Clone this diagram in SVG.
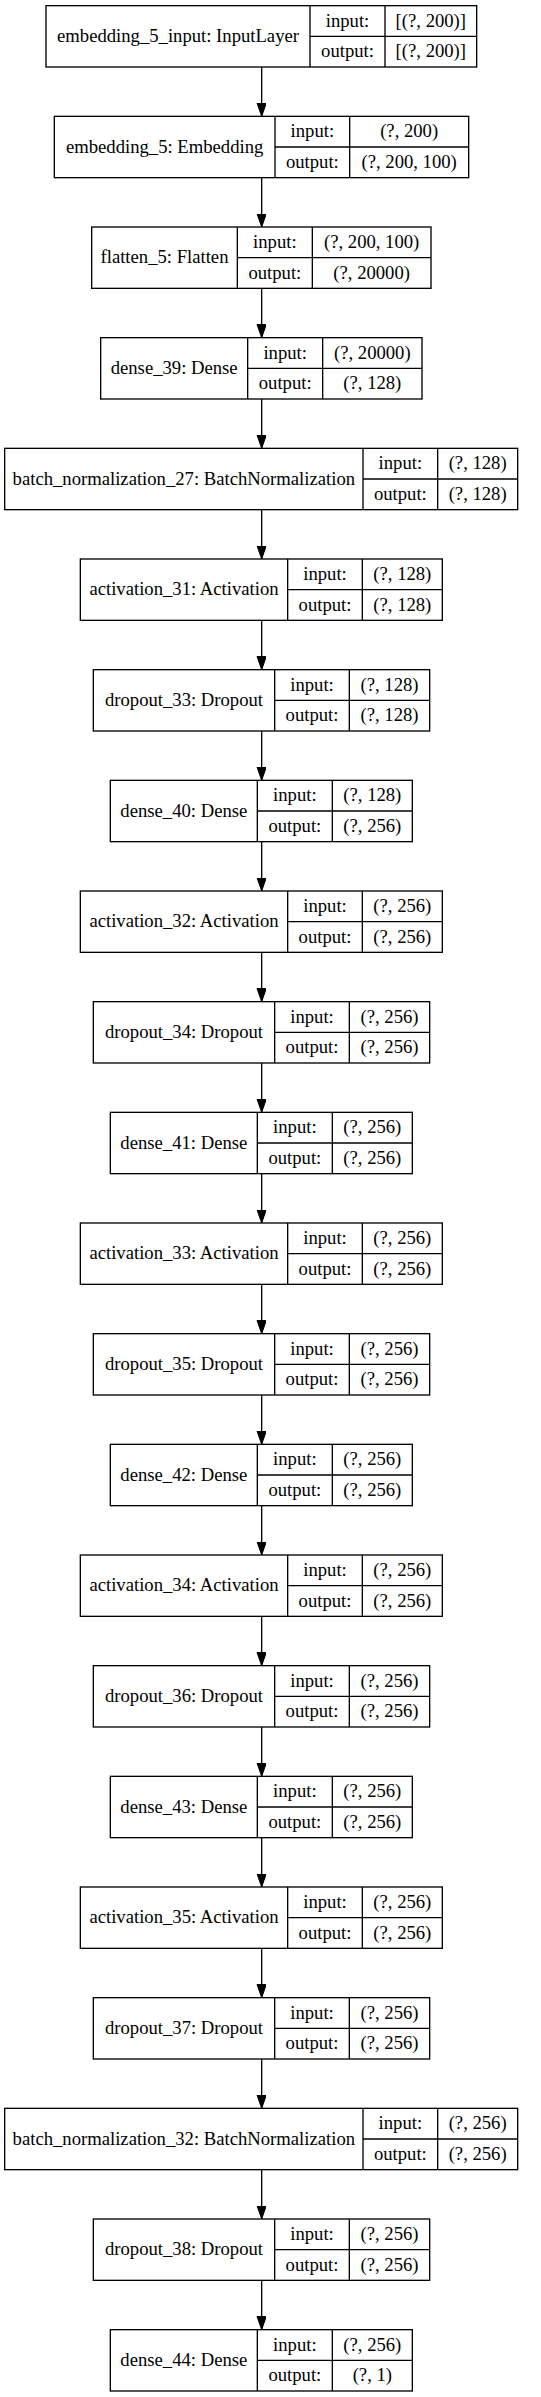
<svg xmlns="http://www.w3.org/2000/svg" width="541" height="2397" viewBox="0 0 541 2397">
<style>
.b{fill:#fff;stroke:#000;stroke-width:1.33}
.l{stroke:#000;stroke-width:1.33}
text{font-family:"Liberation Serif","Times New Roman",serif;font-size:18.67px;text-anchor:middle;fill:#000}
.e{stroke:#000;stroke-width:1.33;fill:none}
</style>
<defs>
<marker id="ah" markerUnits="userSpaceOnUse" markerWidth="14" markerHeight="10" refX="13.33" refY="4.67" orient="auto">
<path d="M0,0 L13.33,4.67 L0,9.33 Z" fill="#000" stroke="#000" stroke-width="1"/>
</marker>
</defs>
<rect width="541" height="2397" fill="#fff"/>
<g id="connectors">
<line class="e" x1="261.67" y1="67" x2="261.67" y2="116.33" marker-end="url(#ah)"/>
<line class="e" x1="261.67" y1="177.67" x2="261.67" y2="227" marker-end="url(#ah)"/>
<line class="e" x1="261.67" y1="288.33" x2="261.67" y2="337.67" marker-end="url(#ah)"/>
<line class="e" x1="261.67" y1="399" x2="261.67" y2="448.33" marker-end="url(#ah)"/>
<line class="e" x1="261.67" y1="509.67" x2="261.67" y2="559" marker-end="url(#ah)"/>
<line class="e" x1="261.67" y1="620.33" x2="261.67" y2="669.67" marker-end="url(#ah)"/>
<line class="e" x1="261.67" y1="731" x2="261.67" y2="780.33" marker-end="url(#ah)"/>
<line class="e" x1="261.67" y1="841.67" x2="261.67" y2="891" marker-end="url(#ah)"/>
<line class="e" x1="261.67" y1="952.33" x2="261.67" y2="1001.67" marker-end="url(#ah)"/>
<line class="e" x1="261.67" y1="1063" x2="261.67" y2="1112.33" marker-end="url(#ah)"/>
<line class="e" x1="261.67" y1="1173.67" x2="261.67" y2="1223" marker-end="url(#ah)"/>
<line class="e" x1="261.67" y1="1284.33" x2="261.67" y2="1333.67" marker-end="url(#ah)"/>
<line class="e" x1="261.67" y1="1395" x2="261.67" y2="1444.33" marker-end="url(#ah)"/>
<line class="e" x1="261.67" y1="1505.67" x2="261.67" y2="1555" marker-end="url(#ah)"/>
<line class="e" x1="261.67" y1="1616.33" x2="261.67" y2="1665.67" marker-end="url(#ah)"/>
<line class="e" x1="261.67" y1="1727" x2="261.67" y2="1776.33" marker-end="url(#ah)"/>
<line class="e" x1="261.67" y1="1837.67" x2="261.67" y2="1887" marker-end="url(#ah)"/>
<line class="e" x1="261.67" y1="1948.33" x2="261.67" y2="1997.67" marker-end="url(#ah)"/>
<line class="e" x1="261.67" y1="2059" x2="261.67" y2="2108.33" marker-end="url(#ah)"/>
<line class="e" x1="261.67" y1="2169.67" x2="261.67" y2="2219" marker-end="url(#ah)"/>
<line class="e" x1="261.67" y1="2280.33" x2="261.67" y2="2329.67" marker-end="url(#ah)"/>
</g>

<g id="embedding_5_input" transform="translate(0,5.67)">
<rect class="b" x="46" y="0" width="430.67" height="61.33"/>
<line class="l" x1="310" y1="0" x2="310" y2="61.33"/><line class="l" x1="385" y1="0" x2="385" y2="61.33"/><line class="l" x1="310" y1="30.67" x2="476.67" y2="30.67"/>
<text x="178" y="36.3">embedding_5_input: InputLayer</text>
<text x="347.5" y="20.9">input:</text><text x="347.5" y="51.6">output:</text>
<text x="430.83" y="20.9">[(?, 200)]</text><text x="430.83" y="51.6">[(?, 200)]</text>
</g>

<g id="embedding_5" transform="translate(0,116.33)">
<rect class="b" x="54.33" y="0" width="414.34" height="61.33"/>
<line class="l" x1="275" y1="0" x2="275" y2="61.33"/><line class="l" x1="349.67" y1="0" x2="349.67" y2="61.33"/><line class="l" x1="275" y1="30.67" x2="468.67" y2="30.67"/>
<text x="164.67" y="36.3">embedding_5: Embedding</text>
<text x="312.33" y="20.9">input:</text><text x="312.33" y="51.6">output:</text>
<text x="409.17" y="20.9">(?, 200)</text><text x="409.17" y="51.6">(?, 200, 100)</text>
</g>

<g id="flatten_5" transform="translate(0,227)">
<rect class="b" x="91.67" y="0" width="339.33" height="61.33"/>
<line class="l" x1="237.33" y1="0" x2="237.33" y2="61.33"/><line class="l" x1="312.33" y1="0" x2="312.33" y2="61.33"/><line class="l" x1="237.33" y1="30.67" x2="431" y2="30.67"/>
<text x="164.5" y="36.3">flatten_5: Flatten</text>
<text x="274.83" y="20.9">input:</text><text x="274.83" y="51.6">output:</text>
<text x="371.67" y="20.9">(?, 200, 100)</text><text x="371.67" y="51.6">(?, 20000)</text>
</g>

<g id="dense_39" transform="translate(0,337.67)">
<rect class="b" x="100.67" y="0" width="321.33" height="61.33"/>
<line class="l" x1="247.67" y1="0" x2="247.67" y2="61.33"/><line class="l" x1="322.67" y1="0" x2="322.67" y2="61.33"/><line class="l" x1="247.67" y1="30.67" x2="422" y2="30.67"/>
<text x="174.17" y="36.3">dense_39: Dense</text>
<text x="285.17" y="20.9">input:</text><text x="285.17" y="51.6">output:</text>
<text x="372.33" y="20.9">(?, 20000)</text><text x="372.33" y="51.6">(?, 128)</text>
</g>

<g id="batch_normalization_27" transform="translate(0,448.33)">
<rect class="b" x="4.67" y="0" width="513" height="61.33"/>
<line class="l" x1="363" y1="0" x2="363" y2="61.33"/><line class="l" x1="437.67" y1="0" x2="437.67" y2="61.33"/><line class="l" x1="363" y1="30.67" x2="517.67" y2="30.67"/>
<text x="183.83" y="36.3">batch_normalization_27: BatchNormalization</text>
<text x="400.33" y="20.9">input:</text><text x="400.33" y="51.6">output:</text>
<text x="477.67" y="20.9">(?, 128)</text><text x="477.67" y="51.6">(?, 128)</text>
</g>

<g id="activation_31" transform="translate(0,559)">
<rect class="b" x="80.33" y="0" width="362" height="61.33"/>
<line class="l" x1="287.67" y1="0" x2="287.67" y2="61.33"/><line class="l" x1="362.33" y1="0" x2="362.33" y2="61.33"/><line class="l" x1="287.67" y1="30.67" x2="442.33" y2="30.67"/>
<text x="184" y="36.3">activation_31: Activation</text>
<text x="325" y="20.9">input:</text><text x="325" y="51.6">output:</text>
<text x="402.33" y="20.9">(?, 128)</text><text x="402.33" y="51.6">(?, 128)</text>
</g>

<g id="dropout_33" transform="translate(0,669.67)">
<rect class="b" x="93.33" y="0" width="336.34" height="61.33"/>
<line class="l" x1="274.67" y1="0" x2="274.67" y2="61.33"/><line class="l" x1="349.33" y1="0" x2="349.33" y2="61.33"/><line class="l" x1="274.67" y1="30.67" x2="429.67" y2="30.67"/>
<text x="184" y="36.3">dropout_33: Dropout</text>
<text x="312" y="20.9">input:</text><text x="312" y="51.6">output:</text>
<text x="389.5" y="20.9">(?, 128)</text><text x="389.5" y="51.6">(?, 128)</text>
</g>

<g id="dense_40" transform="translate(0,780.33)">
<rect class="b" x="110.33" y="0" width="302" height="61.33"/>
<line class="l" x1="257.33" y1="0" x2="257.33" y2="61.33"/><line class="l" x1="332.33" y1="0" x2="332.33" y2="61.33"/><line class="l" x1="257.33" y1="30.67" x2="412.33" y2="30.67"/>
<text x="183.83" y="36.3">dense_40: Dense</text>
<text x="294.83" y="20.9">input:</text><text x="294.83" y="51.6">output:</text>
<text x="372.33" y="20.9">(?, 128)</text><text x="372.33" y="51.6">(?, 256)</text>
</g>

<g id="activation_32" transform="translate(0,891)">
<rect class="b" x="80.33" y="0" width="362" height="61.33"/>
<line class="l" x1="287.67" y1="0" x2="287.67" y2="61.33"/><line class="l" x1="362.33" y1="0" x2="362.33" y2="61.33"/><line class="l" x1="287.67" y1="30.67" x2="442.33" y2="30.67"/>
<text x="184" y="36.3">activation_32: Activation</text>
<text x="325" y="20.9">input:</text><text x="325" y="51.6">output:</text>
<text x="402.33" y="20.9">(?, 256)</text><text x="402.33" y="51.6">(?, 256)</text>
</g>

<g id="dropout_34" transform="translate(0,1001.67)">
<rect class="b" x="93.33" y="0" width="336.34" height="61.33"/>
<line class="l" x1="274.67" y1="0" x2="274.67" y2="61.33"/><line class="l" x1="349.33" y1="0" x2="349.33" y2="61.33"/><line class="l" x1="274.67" y1="30.67" x2="429.67" y2="30.67"/>
<text x="184" y="36.3">dropout_34: Dropout</text>
<text x="312" y="20.9">input:</text><text x="312" y="51.6">output:</text>
<text x="389.5" y="20.9">(?, 256)</text><text x="389.5" y="51.6">(?, 256)</text>
</g>

<g id="dense_41" transform="translate(0,1112.33)">
<rect class="b" x="110.33" y="0" width="302" height="61.33"/>
<line class="l" x1="257.33" y1="0" x2="257.33" y2="61.33"/><line class="l" x1="332.33" y1="0" x2="332.33" y2="61.33"/><line class="l" x1="257.33" y1="30.67" x2="412.33" y2="30.67"/>
<text x="183.83" y="36.3">dense_41: Dense</text>
<text x="294.83" y="20.9">input:</text><text x="294.83" y="51.6">output:</text>
<text x="372.33" y="20.9">(?, 256)</text><text x="372.33" y="51.6">(?, 256)</text>
</g>

<g id="activation_33" transform="translate(0,1223)">
<rect class="b" x="80.33" y="0" width="362" height="61.33"/>
<line class="l" x1="287.67" y1="0" x2="287.67" y2="61.33"/><line class="l" x1="362.33" y1="0" x2="362.33" y2="61.33"/><line class="l" x1="287.67" y1="30.67" x2="442.33" y2="30.67"/>
<text x="184" y="36.3">activation_33: Activation</text>
<text x="325" y="20.9">input:</text><text x="325" y="51.6">output:</text>
<text x="402.33" y="20.9">(?, 256)</text><text x="402.33" y="51.6">(?, 256)</text>
</g>

<g id="dropout_35" transform="translate(0,1333.67)">
<rect class="b" x="93.33" y="0" width="336.34" height="61.33"/>
<line class="l" x1="274.67" y1="0" x2="274.67" y2="61.33"/><line class="l" x1="349.33" y1="0" x2="349.33" y2="61.33"/><line class="l" x1="274.67" y1="30.67" x2="429.67" y2="30.67"/>
<text x="184" y="36.3">dropout_35: Dropout</text>
<text x="312" y="20.9">input:</text><text x="312" y="51.6">output:</text>
<text x="389.5" y="20.9">(?, 256)</text><text x="389.5" y="51.6">(?, 256)</text>
</g>

<g id="dense_42" transform="translate(0,1444.33)">
<rect class="b" x="110.33" y="0" width="302" height="61.33"/>
<line class="l" x1="257.33" y1="0" x2="257.33" y2="61.33"/><line class="l" x1="332.33" y1="0" x2="332.33" y2="61.33"/><line class="l" x1="257.33" y1="30.67" x2="412.33" y2="30.67"/>
<text x="183.83" y="36.3">dense_42: Dense</text>
<text x="294.83" y="20.9">input:</text><text x="294.83" y="51.6">output:</text>
<text x="372.33" y="20.9">(?, 256)</text><text x="372.33" y="51.6">(?, 256)</text>
</g>

<g id="activation_34" transform="translate(0,1555)">
<rect class="b" x="80.33" y="0" width="362" height="61.33"/>
<line class="l" x1="287.67" y1="0" x2="287.67" y2="61.33"/><line class="l" x1="362.33" y1="0" x2="362.33" y2="61.33"/><line class="l" x1="287.67" y1="30.67" x2="442.33" y2="30.67"/>
<text x="184" y="36.3">activation_34: Activation</text>
<text x="325" y="20.9">input:</text><text x="325" y="51.6">output:</text>
<text x="402.33" y="20.9">(?, 256)</text><text x="402.33" y="51.6">(?, 256)</text>
</g>

<g id="dropout_36" transform="translate(0,1665.67)">
<rect class="b" x="93.33" y="0" width="336.34" height="61.33"/>
<line class="l" x1="274.67" y1="0" x2="274.67" y2="61.33"/><line class="l" x1="349.33" y1="0" x2="349.33" y2="61.33"/><line class="l" x1="274.67" y1="30.67" x2="429.67" y2="30.67"/>
<text x="184" y="36.3">dropout_36: Dropout</text>
<text x="312" y="20.9">input:</text><text x="312" y="51.6">output:</text>
<text x="389.5" y="20.9">(?, 256)</text><text x="389.5" y="51.6">(?, 256)</text>
</g>

<g id="dense_43" transform="translate(0,1776.33)">
<rect class="b" x="110.33" y="0" width="302" height="61.33"/>
<line class="l" x1="257.33" y1="0" x2="257.33" y2="61.33"/><line class="l" x1="332.33" y1="0" x2="332.33" y2="61.33"/><line class="l" x1="257.33" y1="30.67" x2="412.33" y2="30.67"/>
<text x="183.83" y="36.3">dense_43: Dense</text>
<text x="294.83" y="20.9">input:</text><text x="294.83" y="51.6">output:</text>
<text x="372.33" y="20.9">(?, 256)</text><text x="372.33" y="51.6">(?, 256)</text>
</g>

<g id="activation_35" transform="translate(0,1887)">
<rect class="b" x="80.33" y="0" width="362" height="61.33"/>
<line class="l" x1="287.67" y1="0" x2="287.67" y2="61.33"/><line class="l" x1="362.33" y1="0" x2="362.33" y2="61.33"/><line class="l" x1="287.67" y1="30.67" x2="442.33" y2="30.67"/>
<text x="184" y="36.3">activation_35: Activation</text>
<text x="325" y="20.9">input:</text><text x="325" y="51.6">output:</text>
<text x="402.33" y="20.9">(?, 256)</text><text x="402.33" y="51.6">(?, 256)</text>
</g>

<g id="dropout_37" transform="translate(0,1997.67)">
<rect class="b" x="93.33" y="0" width="336.34" height="61.33"/>
<line class="l" x1="274.67" y1="0" x2="274.67" y2="61.33"/><line class="l" x1="349.33" y1="0" x2="349.33" y2="61.33"/><line class="l" x1="274.67" y1="30.67" x2="429.67" y2="30.67"/>
<text x="184" y="36.3">dropout_37: Dropout</text>
<text x="312" y="20.9">input:</text><text x="312" y="51.6">output:</text>
<text x="389.5" y="20.9">(?, 256)</text><text x="389.5" y="51.6">(?, 256)</text>
</g>

<g id="batch_normalization_32" transform="translate(0,2108.33)">
<rect class="b" x="4.67" y="0" width="513" height="61.33"/>
<line class="l" x1="363" y1="0" x2="363" y2="61.33"/><line class="l" x1="437.67" y1="0" x2="437.67" y2="61.33"/><line class="l" x1="363" y1="30.67" x2="517.67" y2="30.67"/>
<text x="183.83" y="36.3">batch_normalization_32: BatchNormalization</text>
<text x="400.33" y="20.9">input:</text><text x="400.33" y="51.6">output:</text>
<text x="477.67" y="20.9">(?, 256)</text><text x="477.67" y="51.6">(?, 256)</text>
</g>

<g id="dropout_38" transform="translate(0,2219)">
<rect class="b" x="93.33" y="0" width="336.34" height="61.33"/>
<line class="l" x1="274.67" y1="0" x2="274.67" y2="61.33"/><line class="l" x1="349.33" y1="0" x2="349.33" y2="61.33"/><line class="l" x1="274.67" y1="30.67" x2="429.67" y2="30.67"/>
<text x="184" y="36.3">dropout_38: Dropout</text>
<text x="312" y="20.9">input:</text><text x="312" y="51.6">output:</text>
<text x="389.5" y="20.9">(?, 256)</text><text x="389.5" y="51.6">(?, 256)</text>
</g>

<g id="dense_44" transform="translate(0,2329.67)">
<rect class="b" x="110.33" y="0" width="302" height="61.33"/>
<line class="l" x1="257.33" y1="0" x2="257.33" y2="61.33"/><line class="l" x1="332.33" y1="0" x2="332.33" y2="61.33"/><line class="l" x1="257.33" y1="30.67" x2="412.33" y2="30.67"/>
<text x="183.83" y="36.3">dense_44: Dense</text>
<text x="294.83" y="20.9">input:</text><text x="294.83" y="51.6">output:</text>
<text x="372.33" y="20.9">(?, 256)</text><text x="372.33" y="51.6">(?, 1)</text>
</g>
</svg>
